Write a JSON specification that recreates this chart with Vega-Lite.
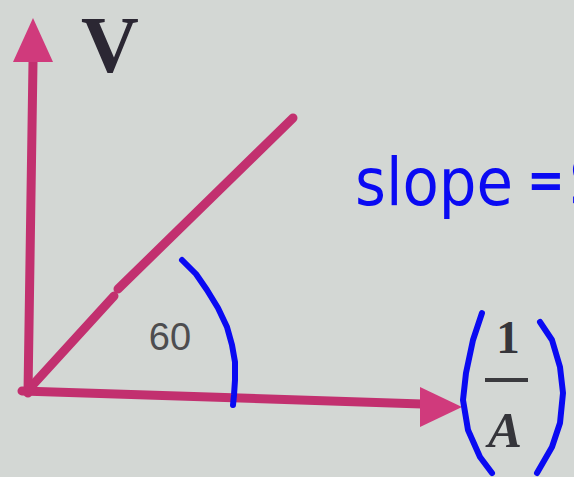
{
  "$schema": "https://vega.github.io/schema/vega-lite/v6.json",
  "width": 574,
  "height": 477,
  "autosize": {"type": "fit", "contains": "padding"},
  "padding": 0,
  "background": "#d3d7d4",
  "config": {"view": {"stroke": null}},
  "datasets": {
    "strokes": [
      {"stroke": "v-axis", "ink": "pink", "i": 0, "x": 28, "y": 84},
      {"stroke": "v-axis", "ink": "pink", "i": 1, "x": 33, "y": 415},
      {"stroke": "h-axis", "ink": "pink", "i": 0, "x": 22, "y": 86},
      {"stroke": "h-axis", "ink": "pink", "i": 1, "x": 422, "y": 73},
      {"stroke": "graph-lo", "ink": "pink", "i": 0, "x": 30, "y": 89},
      {"stroke": "graph-lo", "ink": "pink", "i": 1, "x": 114, "y": 181},
      {"stroke": "graph-hi", "ink": "pink", "i": 0, "x": 118, "y": 188},
      {"stroke": "graph-hi", "ink": "pink", "i": 1, "x": 293, "y": 359},
      {"stroke": "angle-arc", "ink": "blue", "i": 0, "x": 182, "y": 217},
      {"stroke": "angle-arc", "ink": "blue", "i": 1, "x": 196, "y": 203},
      {"stroke": "angle-arc", "ink": "blue", "i": 2, "x": 207, "y": 187},
      {"stroke": "angle-arc", "ink": "blue", "i": 3, "x": 218, "y": 169},
      {"stroke": "angle-arc", "ink": "blue", "i": 4, "x": 227, "y": 150},
      {"stroke": "angle-arc", "ink": "blue", "i": 5, "x": 232, "y": 132},
      {"stroke": "angle-arc", "ink": "blue", "i": 6, "x": 235, "y": 115},
      {"stroke": "angle-arc", "ink": "blue", "i": 7, "x": 235, "y": 97},
      {"stroke": "angle-arc", "ink": "blue", "i": 8, "x": 234, "y": 82},
      {"stroke": "angle-arc", "ink": "blue", "i": 9, "x": 233, "y": 72},
      {"stroke": "paren-l", "ink": "blue", "i": 0, "x": 482, "y": 164},
      {"stroke": "paren-l", "ink": "blue", "i": 1, "x": 473, "y": 137},
      {"stroke": "paren-l", "ink": "blue", "i": 2, "x": 466, "y": 104},
      {"stroke": "paren-l", "ink": "blue", "i": 3, "x": 463, "y": 77},
      {"stroke": "paren-l", "ink": "blue", "i": 4, "x": 468, "y": 47},
      {"stroke": "paren-l", "ink": "blue", "i": 5, "x": 480, "y": 20},
      {"stroke": "paren-l", "ink": "blue", "i": 6, "x": 492, "y": 4},
      {"stroke": "paren-r", "ink": "blue", "i": 0, "x": 540, "y": 155},
      {"stroke": "paren-r", "ink": "blue", "i": 1, "x": 552, "y": 137},
      {"stroke": "paren-r", "ink": "blue", "i": 2, "x": 560, "y": 110},
      {"stroke": "paren-r", "ink": "blue", "i": 3, "x": 563, "y": 84},
      {"stroke": "paren-r", "ink": "blue", "i": 4, "x": 560, "y": 54},
      {"stroke": "paren-r", "ink": "blue", "i": 5, "x": 552, "y": 30},
      {"stroke": "paren-r", "ink": "blue", "i": 6, "x": 537, "y": 4}
    ],
    "heads": [
      {"axis": "V", "x": 33, "y": 437},
      {"axis": "1/A", "x": 441, "y": 70}
    ],
    "labels": [
      {"style": "axis", "label": "V", "x": 110, "y": 405},
      {"style": "angle", "label": "60", "x": 170, "y": 127},
      {"style": "note", "label": "slope", "x": 355, "y": 272},
      {"style": "eq", "label": "=", "x": 527, "y": 280},
      {"style": "note", "label": "S", "x": 569, "y": 272},
      {"style": "num", "label": "1", "x": 508, "y": 124},
      {"style": "den", "label": "A", "x": 505, "y": 30}
    ],
    "bar": [
      {"x": 485, "x2": 528, "y": 97}
    ]
  },
  "encoding": {
    "x": {"field": "x", "type": "quantitative", "scale": {"domain": [0, 574], "nice": false, "zero": false}, "axis": null},
    "y": {"field": "y", "type": "quantitative", "scale": {"domain": [0, 477], "nice": false, "zero": false}, "axis": null}
  },
  "layer": [
    {
      "data": {"name": "strokes"},
      "transform": [{"filter": "datum.ink === 'pink'"}],
      "mark": {"type": "line", "color": "#c2306f", "strokeWidth": 9, "strokeCap": "round", "strokeJoin": "round"},
      "encoding": {"detail": {"field": "stroke"}, "order": {"field": "i"}}
    },
    {
      "data": {"name": "heads"},
      "transform": [{"filter": "datum.axis === 'V'"}],
      "mark": {"type": "point", "filled": true, "opacity": 1, "color": "#d03a7c", "shape": "M0,-1.1L1,1.1L-1,1.1Z", "size": 1600, "strokeWidth": 0}
    },
    {
      "data": {"name": "heads"},
      "transform": [{"filter": "datum.axis === '1/A'"}],
      "mark": {"type": "point", "filled": true, "opacity": 1, "color": "#d03a7c", "shape": "M1.05,0L-1.05,-1L-1.05,1Z", "size": 1600, "strokeWidth": 0}
    },
    {
      "data": {"name": "strokes"},
      "transform": [{"filter": "datum.ink === 'blue'"}],
      "mark": {"type": "line", "color": "#0a0af2", "strokeWidth": 6, "strokeCap": "round", "strokeJoin": "round"},
      "encoding": {"detail": {"field": "stroke"}, "order": {"field": "i"}}
    },
    {
      "data": {"name": "bar"},
      "mark": {"type": "rule", "color": "#3a3a3e", "strokeWidth": 4},
      "encoding": {"x2": {"field": "x2"}}
    },
    {
      "data": {"name": "labels"},
      "transform": [{"filter": "datum.style === 'axis'"}],
      "mark": {"type": "text", "font": "Liberation Serif", "fontWeight": "bold", "fontSize": 80, "color": "#2b2733", "align": "center", "baseline": "alphabetic"},
      "encoding": {"text": {"field": "label"}}
    },
    {
      "data": {"name": "labels"},
      "transform": [{"filter": "datum.style === 'angle'"}],
      "mark": {"type": "text", "font": "Liberation Sans", "fontSize": 38, "color": "#4d4d4f", "align": "center", "baseline": "alphabetic"},
      "encoding": {"text": {"field": "label"}}
    },
    {
      "data": {"name": "labels"},
      "transform": [{"filter": "datum.style === 'note'"}],
      "mark": {"type": "text", "font": "DejaVu Sans Condensed, DejaVu Sans", "fontSize": 66, "color": "#0a0af2", "align": "left", "baseline": "alphabetic", "clip": true},
      "encoding": {"text": {"field": "label"}}
    },
    {
      "data": {"name": "labels"},
      "transform": [{"filter": "datum.style === 'eq'"}],
      "mark": {"type": "text", "font": "DejaVu Sans Condensed, DejaVu Sans", "fontSize": 50, "fontWeight": "bold", "color": "#0a0af2", "align": "left", "baseline": "alphabetic"},
      "encoding": {"text": {"field": "label"}}
    },
    {
      "data": {"name": "labels"},
      "transform": [{"filter": "datum.style === 'num'"}],
      "mark": {"type": "text", "font": "Liberation Serif", "fontWeight": "bold", "fontSize": 47, "color": "#35353a", "align": "center", "baseline": "alphabetic"},
      "encoding": {"text": {"field": "label"}}
    },
    {
      "data": {"name": "labels"},
      "transform": [{"filter": "datum.style === 'den'"}],
      "mark": {"type": "text", "font": "Liberation Serif", "fontWeight": "bold", "fontStyle": "italic", "fontSize": 51, "color": "#35353a", "align": "center", "baseline": "alphabetic"},
      "encoding": {"text": {"field": "label"}}
    }
  ]
}
